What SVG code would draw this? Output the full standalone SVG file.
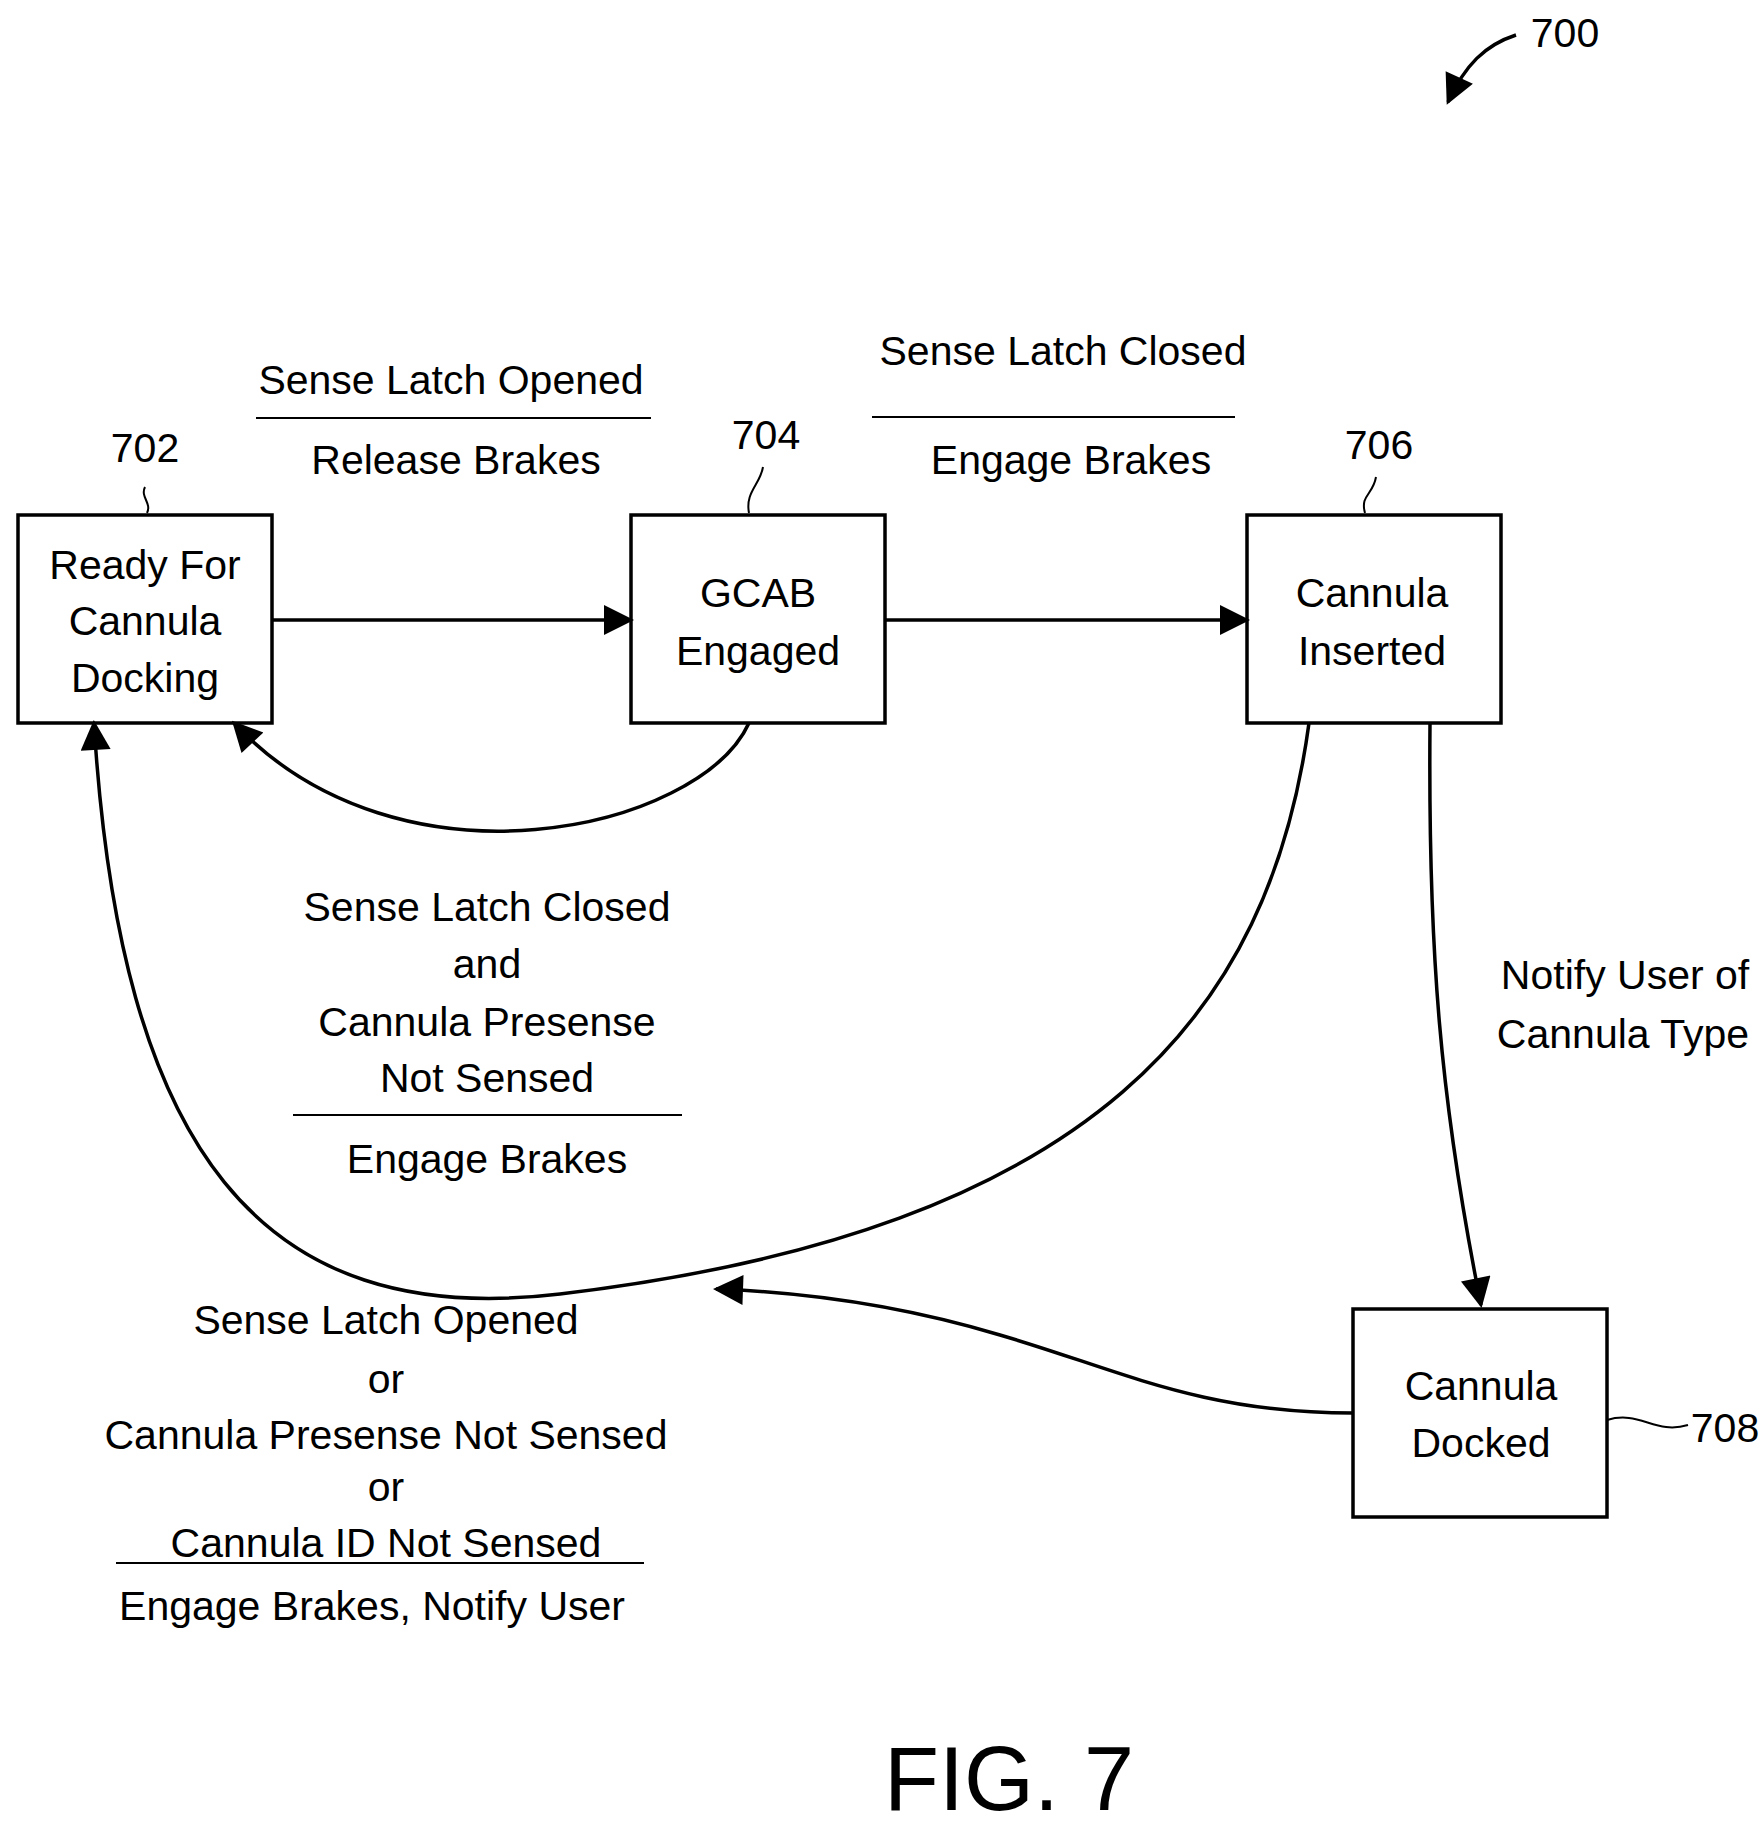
<svg xmlns="http://www.w3.org/2000/svg" width="1764" height="1832" viewBox="0 0 1764 1832">
<style>
.box{fill:#fff;stroke:#000;stroke-width:3.5}
.t{font-family:"Liberation Sans Narrow","Liberation Sans",Arial,sans-serif;font-size:41px;text-anchor:middle;fill:#000}
.c{fill:none;stroke:#000;stroke-width:3.5}
.l{fill:none;stroke:#000;stroke-width:2}
</style>
<defs><marker id="b" viewBox="0 0 10 10" refX="9" refY="5" markerWidth="36" markerHeight="30" markerUnits="userSpaceOnUse" orient="auto"><path d="M0,0 L10,5 L0,10 z"/></marker></defs>
<rect width="1764" height="1832" fill="#fff"/>
<g id="n702"><rect class="box" x="18" y="515" width="254" height="208"/><text class="t" x="145" y="579">Ready For</text><text class="t" x="145" y="635">Cannula</text><text class="t" x="145" y="692">Docking</text><text class="t" x="145" y="462">702</text><path class="l" d="M145,487 C140,497 152,503 147,513"/></g>
<g id="n704"><rect class="box" x="631" y="515" width="254" height="208"/><text class="t" x="758" y="607">GCAB</text><text class="t" x="758" y="665">Engaged</text><text class="t" x="766" y="449">704</text><path class="l" d="M763,467 C760,485 745,492 749,513"/></g>
<g id="n706"><rect class="box" x="1247" y="515" width="254" height="208"/><text class="t" x="1372" y="607">Cannula</text><text class="t" x="1372" y="665">Inserted</text><text class="t" x="1379" y="459">706</text><path class="l" d="M1376,477 C1373,495 1360,495 1365,513"/></g>
<g id="n708"><rect class="box" x="1353" y="1309" width="254" height="208"/><text class="t" x="1481" y="1400">Cannula</text><text class="t" x="1481" y="1457">Docked</text><text class="t" x="1725" y="1442">708</text><path class="l" d="M1607,1420 C1640,1410 1655,1435 1688,1425"/></g>
<g id="connectors">
<path class="c" d="M272,620 L631,620" marker-end="url(#b)"/>
<path class="c" d="M885,620 L1247,620" marker-end="url(#b)"/>
<path class="c" d="M749,723 C700,830 400,900 234,723" marker-end="url(#b)"/>
<path class="c" d="M1309,723 C1270,1010 1100,1230 560,1294 C260,1330 120,1150 94,723" marker-end="url(#b)"/>
<path class="c" d="M1430,723 C1428,950 1440,1100 1481,1305" marker-end="url(#b)"/>
<path class="c" d="M1353,1413 C1200,1413 1120,1370 1000,1335 C900,1305 800,1292 716,1289" marker-end="url(#b)"/>
<path class="c" d="M1516,35 C1485,45 1465,65 1448,102" marker-end="url(#b)"/>
</g>
<g id="labels">
<text class="t" x="1565" y="47">700</text>
<text class="t" x="451" y="394">Sense Latch Opened</text><path class="l" d="M256,418 H651"/><text class="t" x="456" y="474">Release Brakes</text>
<text class="t" x="1063" y="365">Sense Latch Closed</text><path class="l" d="M872,417 H1235"/><text class="t" x="1071" y="474">Engage Brakes</text>
<text class="t" x="487" y="921">Sense Latch Closed</text><text class="t" x="487" y="978">and</text><text class="t" x="487" y="1036">Cannula Presense</text><text class="t" x="487" y="1092">Not Sensed</text><path class="l" d="M293,1115 H682"/><text class="t" x="487" y="1173">Engage Brakes</text>
<text class="t" x="386" y="1334">Sense Latch Opened</text><text class="t" x="386" y="1393">or</text><text class="t" x="386" y="1449">Cannula Presense Not Sensed</text><text class="t" x="386" y="1501">or</text><text class="t" x="386" y="1557">Cannula ID Not Sensed</text><path class="l" d="M116,1563 H644"/><text class="t" x="372" y="1620">Engage Brakes, Notify User</text>
<text class="t" x="1625" y="989">Notify User of</text><text class="t" x="1623" y="1048">Cannula Type</text>
<text class="t" x="1009" y="1810" style="font-size:90px">FIG. 7</text>
</g>
</svg>
